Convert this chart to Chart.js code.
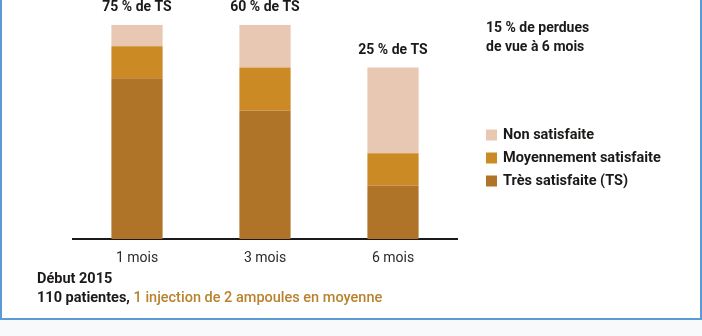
<!DOCTYPE html>
<html>
<head>
<meta charset="utf-8">
<script src="https://cdn.jsdelivr.net/npm/chart.js@4"></script>
<style>
  html, body { margin: 0; padding: 0; background: #f7f9fb; }
  #wrap { position: relative; width: 702px; height: 336px; overflow: hidden; }
  #frame { position: absolute; left: 0; top: -10px; width: 702px; height: 330px;
           box-sizing: border-box; border: 2px solid #5b9bd5; background: #fff; }
  canvas { position: absolute; left: 0; top: 0; }
</style>
</head>
<body>
<div id="wrap">
  <div id="frame"></div>
  <canvas id="myChart" width="702" height="336"></canvas>
</div>
<script>
const labels = ['1 mois', '3 mois', '6 mois'];
const tresSatisfaite = [75, 60, 25];
const moyennement = [15, 20, 15];
const nonSatisfaite = [10, 20, 40];
const topLabels = ['75 % de TS', '60 % de TS', '25 % de TS'];
const noteLines = ['15 % de perdues', 'de vue à 6 mois'];

const ink = '#1c1a18';
const font = 'Roboto, "Noto Sans", sans-serif';

// texts around the chart: labels on top of bars, note, legend, footer
const extras = {
    id: 'extras',
    afterDatasetsDraw(chart) {
        const c = chart.ctx;
        const metas = chart.data.datasets.map((d, i) => chart.getDatasetMeta(i));
        const last = metas[metas.length - 1];
        c.save();
        c.fillStyle = ink;
        c.font = 'bold 14px ' + font;
        c.textAlign = 'center';
        c.textBaseline = 'middle';
        last.data.forEach((bar, i) => {
            c.fillText(topLabels[i], bar.x, bar.y - 17);
        });

        c.textAlign = 'left';
        c.font = 'bold 14px ' + font;
        noteLines.forEach((t, i) => c.fillText(t, 486, 28.5 + i * 18.5));

        // legend, top item is the last dataset
        c.font = 'bold 14.5px ' + font;
        const ds = chart.data.datasets.slice().reverse();
        ds.forEach((d, i) => {
            const y = 135 + i * 23;
            c.fillStyle = d.backgroundColor;
            c.fillRect(486, y - 5.5, 11, 11);
            c.fillStyle = ink;
            c.fillText(d.label, 503, y);
        });

        c.font = 'bold 14.5px ' + font;
        c.fillText('Début 2015', 37, 279);
        const first = '110 patientes, ';
        c.fillText(first, 37, 298);
        const w = c.measureText(first).width;
        c.font = '500 14.5px ' + font;
        c.fillStyle = '#b8832e';
        c.fillText('1 injection de 2 ampoules en moyenne', 37 + w, 298);
        c.restore();
    }
};

const ctx = document.getElementById('myChart').getContext('2d');
const myChart = new Chart(ctx, {
    type: 'bar',
    data: {
        labels: labels,
        datasets: [
            { label: 'Très satisfaite (TS)', data: tresSatisfaite, backgroundColor: '#b07428' },
            { label: 'Moyennement satisfaite', data: moyennement, backgroundColor: '#cc8a25' },
            { label: 'Non satisfaite', data: nonSatisfaite, backgroundColor: '#e8c8b2' },
        ],
    },
    options: {
        responsive: false,
        animation: false,
        barPercentage: 0.4,
        categoryPercentage: 1,
        layout: { padding: { left: 73, right: 245, top: 24.7, bottom: 58.2 } },
        plugins: { legend: { display: false }, tooltip: { enabled: false } },
        scales: {
            x: {
                stacked: true,
                grid: { display: false, drawTicks: false },
                border: { color: '#1a1a1a', width: 2 },
                ticks: { color: '#2a2a2a', padding: 11, font: { family: font, size: 14 } },
            },
            y: { stacked: true, display: false, min: 0, max: 100 },
        },
    },
    plugins: [extras],
});
</script>
</body>
</html>
